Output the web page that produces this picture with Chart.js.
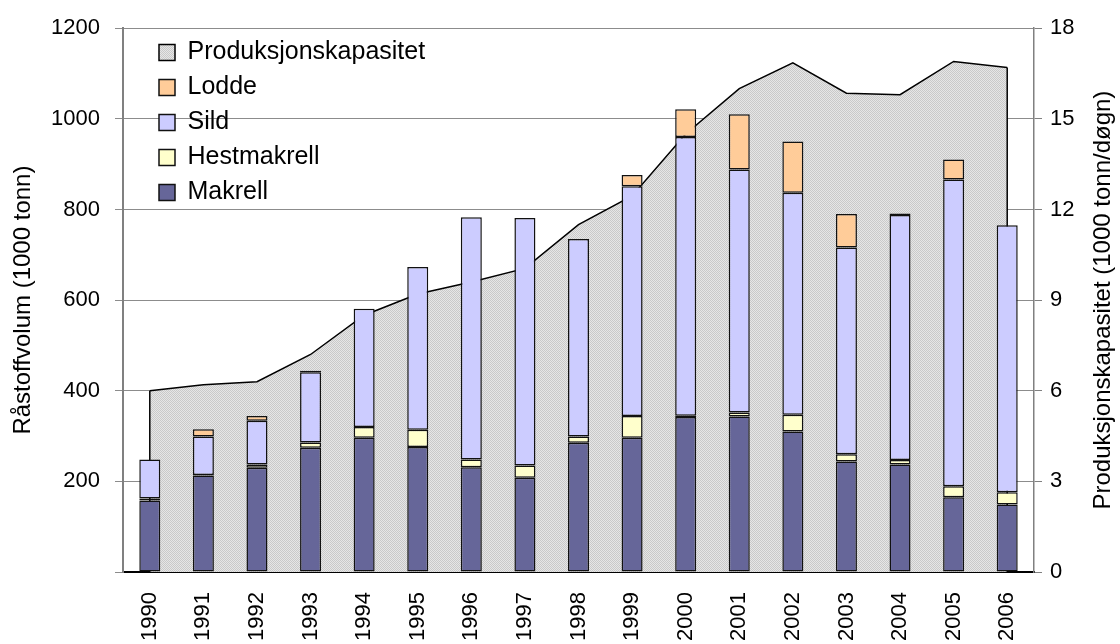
<!DOCTYPE html>
<html>
<head>
<meta charset="utf-8">
<script src="https://cdn.jsdelivr.net/npm/chart.js@4.4.0/dist/chart.umd.min.js"></script>
<style>
  body { margin: 0; background: #fff; }
</style>
</head>
<body>
<canvas id="chart" width="1120" height="644"></canvas>
<script>
// data
const years = ['1990', '1991', '1992', '1993', '1994', '1995', '1996', '1997', '1998',
  '1999', '2000', '2001', '2002', '2003', '2004', '2005', '2006'];
const makrell = [158, 213, 230, 274, 296, 276, 231, 208, 285, 296, 342, 343, 310, 244, 237, 165, 149];
const hestmakrell = [4, 1, 7, 12, 24, 38, 17, 27, 14, 48, 3, 9, 37, 16, 10, 24, 27];
const sild = [86, 85, 97, 155, 261, 359, 535, 546, 436, 507, 615, 536, 490, 456, 541, 677, 589];
const lodde = [0, 16, 10, 3, 0, 0, 0, 0, 0, 25, 61, 122, 113, 74, 3, 44, 0];
const kapasitet = [6.0, 6.2, 6.3, 7.2, 8.5, 9.2, 9.6, 10.05, 11.5, 12.45, 14.5, 16.0, 16.85, 15.85, 15.8, 16.9, 16.7];

const leftTicks = [0, 200, 400, 600, 800, 1000, 1200];
const rightTicks = [0, 3, 6, 9, 12, 15, 18];

Chart.defaults.font.family = '"Liberation Sans", Arial, sans-serif';
Chart.defaults.color = '#000';

const canvas = document.getElementById('chart');
const ctx = canvas.getContext('2d');

// fine gray stipple like the Excel area fill
function makePattern() {
  const c = document.createElement('canvas');
  c.width = 2; c.height = 2;
  const g = c.getContext('2d');
  g.fillStyle = '#e6e6e6';
  g.fillRect(0, 0, 2, 2);
  g.fillStyle = '#c9c9c9';
  g.fillRect(0, 0, 1, 1);
  g.fillRect(1, 1, 1, 1);
  return ctx.createPattern(c, 'repeat');
}

const barStyle = {
  borderColor: '#111',
  borderWidth: 1.5,
  borderSkipped: false,
  categoryPercentage: 0.8,
  barPercentage: 0.49,
  yAxisID: 'y',
  stack: 'fisk',
  order: 0,
};

// vertical edges of the capacity area
const areaEdges = {
  id: 'areaEdges',
  afterDatasetDraw(chart, args) {
    if (args.index !== 4) return;
    const pts = args.meta.data;
    const base = chart.scales.y1.getPixelForValue(0);
    const c = chart.ctx;
    c.save();
    c.strokeStyle = '#000';
    c.lineWidth = 1.5;
    c.beginPath();
    [pts[0], pts[pts.length - 1]].forEach(p => {
      c.moveTo(p.x, p.y);
      c.lineTo(p.x, base);
    });
    c.stroke();
    c.restore();
  }
};

// right title reads bottom-to-top
const rightTitle = {
  id: 'rightTitle',
  afterDraw(chart) {
    const c = chart.ctx;
    const a = chart.chartArea;
    c.save();
    c.translate(1103, (a.top + a.bottom) / 2);
    c.rotate(-Math.PI / 2);
    c.font = '24px "Liberation Sans", Arial, sans-serif';
    c.fillStyle = '#000';
    c.textAlign = 'center';
    c.textBaseline = 'middle';
    c.fillText('Produksjonskapasitet (1000 tonn/døgn)', 0, 0);
    c.restore();
  }
};

// nudge the in-plot legend
const legendOffset = {
  id: 'legendOffset',
  afterLayout(chart) {
    const l = chart.legend;
    l.left += 26; l.right += 26;
    l.top += 30; l.bottom += 30;
  }
};

new Chart(canvas, {
  type: 'bar',
  data: {
    labels: years,
    datasets: [
      { ...barStyle, label: 'Makrell', data: makrell, backgroundColor: '#666699' },
      { ...barStyle, label: 'Hestmakrell', data: hestmakrell, backgroundColor: '#ffffcc' },
      { ...barStyle, label: 'Sild', data: sild, backgroundColor: '#ccccff' },
      { ...barStyle, label: 'Lodde', data: lodde, backgroundColor: '#ffcc99' },
      {
        type: 'line',
        label: 'Produksjonskapasitet',
        data: kapasitet,
        yAxisID: 'y1',
        borderColor: '#000',
        borderWidth: 1.5,
        backgroundColor: makePattern(),
        fill: 'origin',
        pointRadius: 0,
        tension: 0,
        order: 1,
      },
    ],
  },
  options: {
    responsive: false,
    animation: false,
    layout: { padding: { top: 26 } },
    plugins: {
      tooltip: { enabled: false },
      legend: {
        position: 'chartArea',
        align: 'start',
        labels: {
          font: { size: 25 },
          boxWidth: 16,
          boxHeight: 16,
          padding: 10,
          color: '#000',
          sort: (a, b) => b.datasetIndex - a.datasetIndex,
        },
      },
    },
    scales: {
      x: {
        stacked: true,
        grid: { display: false, drawTicks: false },
        border: { color: '#000', width: 2 },
        ticks: {
          font: { size: 22 },
          color: '#000',
          minRotation: 90,
          maxRotation: 90,
          autoSkip: false,
          padding: 20,
        },
        afterFit(s) { s.height = 72; },
      },
      y: {
        stacked: true,
        position: 'left',
        min: 0,
        max: 1200,
        afterBuildTicks(s) { s.ticks = leftTicks.map(v => ({ value: v })); },
        ticks: {
          callback: v => (v === 0 ? '' : v),
          font: { size: 22 },
          color: '#000',
          padding: 15,
        },
        grid: { color: '#8c8c8c', lineWidth: 1, tickLength: 8 },
        border: { color: '#808080', width: 2 },
        title: {
          display: true,
          text: 'Råstoffvolum (1000 tonn)',
          font: { size: 24 },
          color: '#000',
          padding: { top: 9, bottom: 0 },
        },
        afterFit(s) { s.width = 123; },
      },
      y1: {
        position: 'right',
        min: 0,
        max: 18,
        afterBuildTicks(s) { s.ticks = rightTicks.map(v => ({ value: v })); },
        ticks: { font: { size: 22 }, color: '#000', padding: 8 },
        grid: { drawOnChartArea: false, color: '#808080', tickLength: 8 },
        border: { color: '#808080', width: 1.5 },
        afterFit(s) { s.width = 86; },
      },
    },
  },
  plugins: [areaEdges, rightTitle, legendOffset],
});
</script>
</body>
</html>
